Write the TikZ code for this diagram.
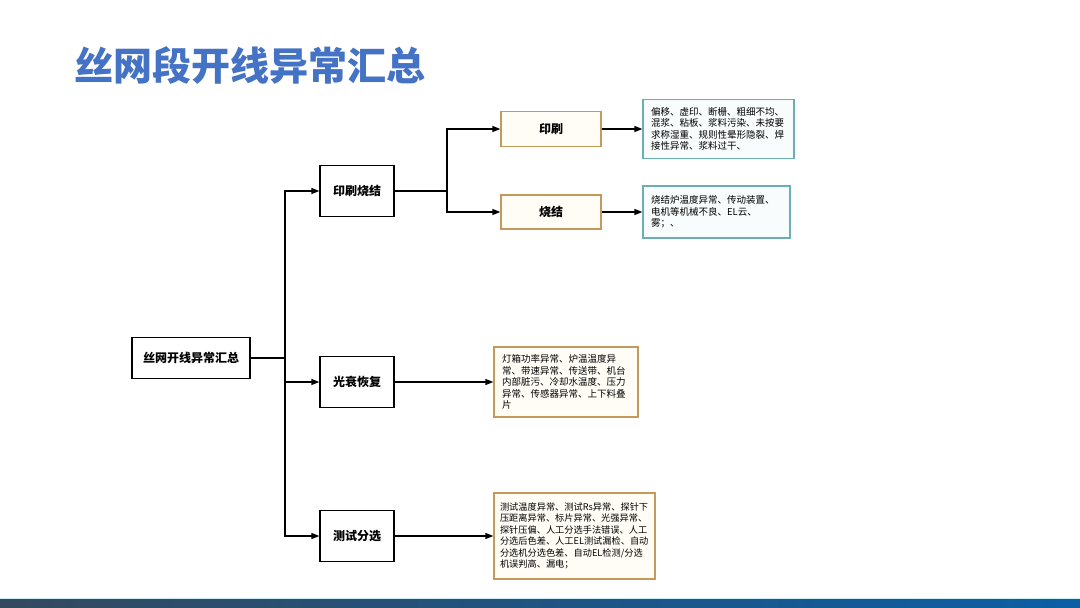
\documentclass[tikz,border=0pt]{standalone}
\usepackage{fontspec}
\setmainfont{Noto Sans CJK SC}
\usepackage{xcolor}
\usepackage{tikz}
\usetikzlibrary{arrows.meta}

\definecolor{titleblue}{HTML}{4472C4}
\definecolor{tanline}{HTML}{C49A5A}
\definecolor{tanfill}{HTML}{FFFDF6}
\definecolor{tealline}{HTML}{6AAFB2}
\definecolor{barleft}{HTML}{34495E}
\definecolor{barright}{HTML}{0B5FA5}

\tikzset{
    catbox/.style={rectangle, draw, line width=1.3pt, fill=white, align=center, minimum width=74pt, minimum height=51pt, font=\fontsize{12}{14}\selectfont\bfseries},
    subbox/.style={rectangle, draw=tanline, line width=1.3pt, fill=tanfill, align=center, minimum width=100pt, minimum height=35pt, font=\fontsize{12}{14}\selectfont\bfseries},
    notebox/.style={rectangle, draw, line width=1.3pt, align=left, inner xsep=8pt, font=\fontsize{9.5}{11.5}\selectfont},
    link/.style={line width=1.3pt},
    arr/.style={line width=1.3pt, -{Triangle[length=8pt, width=6pt]}}
}

\begin{document}
\begin{tikzpicture}[x=1pt, y=-1pt]
            \useasboundingbox (0,0) rectangle (1080,608);
            \fill[white] (0,0) rectangle (1080,608);

            % title and bottom bar
            \node[anchor=west, inner sep=0pt, text=titleblue, font=\fontsize{39}{44}\selectfont\bfseries] (title) at (74,65) {丝网段开线异常汇总};
            \shade[left color=barleft, right color=barright] (0,599) rectangle (1080,608);
            \draw[color=black!15!cyan!20, line width=0.8pt] (0,598.5) -- (1080,598.5);

            % tree
            \node[catbox, minimum width=118pt, minimum height=41pt] (root) at (191,358) {丝网开线异常汇总};
            \node[catbox] (yhsj) at (357,191) {印刷烧结};
            \node[catbox] (ghhf) at (357,382) {光衰恢复};
            \node[catbox] (csfx) at (357,536) {测试分选};

            \node[subbox] (ys) at (551,129) {印刷};
            \node[subbox, minimum height=34pt] (sj) at (551,212) {烧结};

            \node[notebox, draw=tealline, fill=tealline!4, text width=135pt, minimum height=59pt] (ysnote) at (718.5,129) {
                偏移、虚印、断栅、粗细不均、\\混浆、粘板、浆料污染、未按要\\求称湿重、规则性晕形隐裂、焊\\接性异常、浆料过干、
            };
            \node[notebox, draw=tealline, fill=tealline!4, text width=131pt, minimum height=52pt] (sjnote) at (716.5,212) {
                烧结炉温度异常、传动装置、\\电机等机械不良、EL云、\\雾；、
            };
            \node[notebox, draw=tanline, fill=tanfill, text width=128pt, minimum height=70pt] (ghnote) at (566,382) {
                灯箱功率异常、炉温温度异\\常、带速异常、传送带、机台\\内部脏污、冷却水温度、压力\\异常、传感器异常、上下料叠\\片
            };
            \node[notebox, draw=tanline, fill=tanfill, text width=149pt, inner xsep=6pt, minimum height=86pt, font=\fontsize{9.2}{11.5}\selectfont] (csnote) at (574.5,536) {
                测试温度异常、测试Rs异常、探针下\\压距离异常、标片异常、光强异常、\\探针压偏、人工分选手法错误、人工\\分选后色差、人工EL测试漏检、自动\\分选机分选色差、自动EL检测/分选\\机误判高、漏电；
            };

            \coordinate (split) at (285,358);
            \coordinate (split2) at (447,191);

            \draw[link] (root) -- (split);
            \draw[arr] (split) |- (yhsj);
            \draw[arr] (split) |- (ghhf);
            \draw[arr] (split) |- (csfx);

            \draw[link] (yhsj) -- (split2);
            \draw[arr] (split2) |- (ys);
            \draw[arr] (split2) |- (sj);

            \draw[arr] (ys) -- (ysnote);
            \draw[arr] (sj) -- (sjnote);
            \draw[arr] (ghhf) -- (ghnote);
            \draw[arr] (csfx) -- (csnote);
        \end{tikzpicture}
\end{document}
